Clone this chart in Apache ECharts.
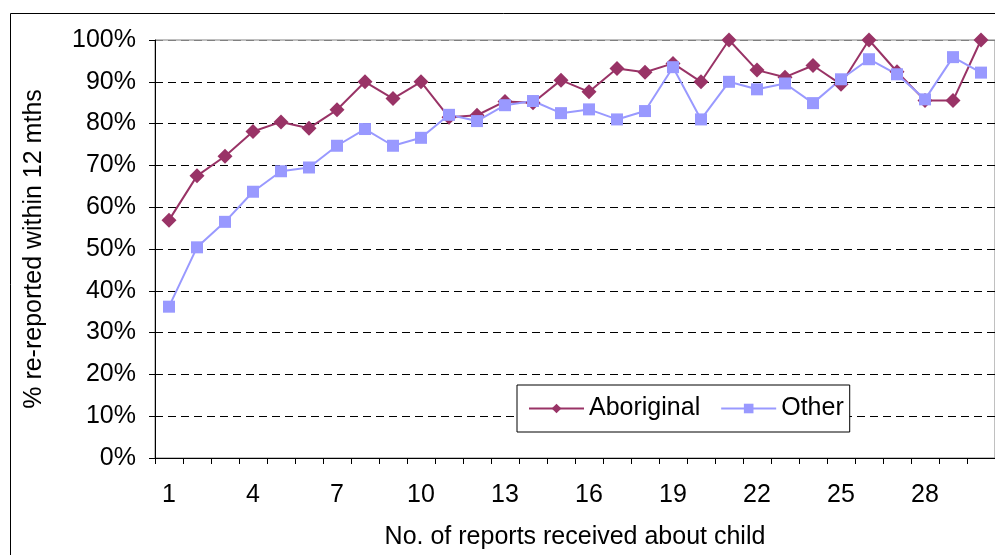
<!DOCTYPE html>
<html>
<head>
<meta charset="utf-8">
<script src="https://cdn.jsdelivr.net/npm/echarts@6/dist/echarts.min.js"></script>
<style>
html,body{margin:0;padding:0;background:#fff;}
#chart{width:995px;height:555px;}
</style>
</head>
<body>
<div id="chart"></div>
<script>
var categories = ['1','2','3','4','5','6','7','8','9','10','11','12','13','14','15','16','17','18','19','20','21','22','23','24','25','26','27','28','29','30'];
var aboriginal = [56.9,67.5,72.2,78.1,80.4,78.9,83.3,90.0,86.0,90.0,81.5,82.0,85.3,85.0,90.4,87.6,93.2,92.3,94.4,90.0,100,92.8,91.1,93.9,89.4,100,92.4,85.5,85.5,100];
var other = [36.2,50.4,56.5,63.7,68.6,69.5,74.7,78.7,74.7,76.6,82.1,80.6,84.4,85.4,82.5,83.4,81.0,83.0,93.5,81.0,90.0,88.2,89.6,84.9,90.6,95.4,91.8,85.8,95.9,92.2];
var yTicks = [0,10,20,30,40,50,60,70,80,90,100];

var FONT = "'Liberation Sans', Arial, sans-serif";
var chart = echarts.init(document.getElementById('chart'), null, {renderer:'canvas'});
var gridColors = yTicks.map(function(v){ return v === 100 ? '#808080' : '#000000'; });
chart.setOption({
  animation: false,
  backgroundColor: '#ffffff',
  graphic: [{
    type: 'rect', silent: true, z: 0,
    shape: {x: 10.5, y: 13.5, width: 1100, height: 700},
    style: {fill: 'none', stroke: '#000', lineWidth: 1}
  }],
  grid: {left: 155, top: 40, width: 855, height: 418, show: true, borderColor: '#808080', borderWidth: 1, backgroundColor: 'transparent'},
  legend: {
    left: 517, top: 385,
    orient: 'horizontal',
    padding: [11, 6, 11, 11],
    itemGap: 20,
    itemWidth: 55, itemHeight: 12,
    borderColor: '#000', borderWidth: 1,
    backgroundColor: '#fff',
    textStyle: {fontFamily: FONT, fontSize: 25, color: '#000'},
    data: ['Aboriginal', 'Other']
  },
  xAxis: {
    type: 'category',
    data: categories,
    boundaryGap: true,
    name: 'No. of reports received about child',
    nameLocation: 'middle',
    nameGap: 67,
    nameTextStyle: {fontFamily: FONT, fontSize: 25, color: '#000'},
    axisLine: {lineStyle: {color: '#000', width: 1}},
    axisTick: {show: true, interval: 0, length: 6, lineStyle: {color: '#000'}},
    axisLabel: {interval: 2, margin: 25, fontFamily: FONT, fontSize: 25, color: '#000'},
    splitLine: {show: false}
  },
  yAxis: {
    type: 'value',
    min: 0, max: 100, interval: 10,
    name: '% re-reported within 12 mths',
    nameLocation: 'middle',
    nameGap: 108,
    nameTextStyle: {fontFamily: FONT, fontSize: 25, color: '#000'},
    axisLine: {show: true, lineStyle: {color: '#000', width: 1}},
    axisTick: {show: true, length: 6, lineStyle: {color: '#000'}},
    axisLabel: {formatter: '{value}%', margin: 19, fontFamily: FONT, fontSize: 25, color: '#000'},
    splitLine: {show: true, lineStyle: {color: gridColors, type: [8, 5], width: 1}}
  },
  series: [{
    name: 'Aboriginal', type: 'line', data: aboriginal,
    symbol: 'diamond', symbolSize: 15,
    itemStyle: {color: '#993366'},
    lineStyle: {color: '#993366', width: 2}
  }, {
    name: 'Other', type: 'line', data: other,
    symbol: 'rect', symbolSize: 12,
    itemStyle: {color: '#9999FF'},
    lineStyle: {color: '#9999FF', width: 2}
  }]
});
</script>
</body>
</html>
